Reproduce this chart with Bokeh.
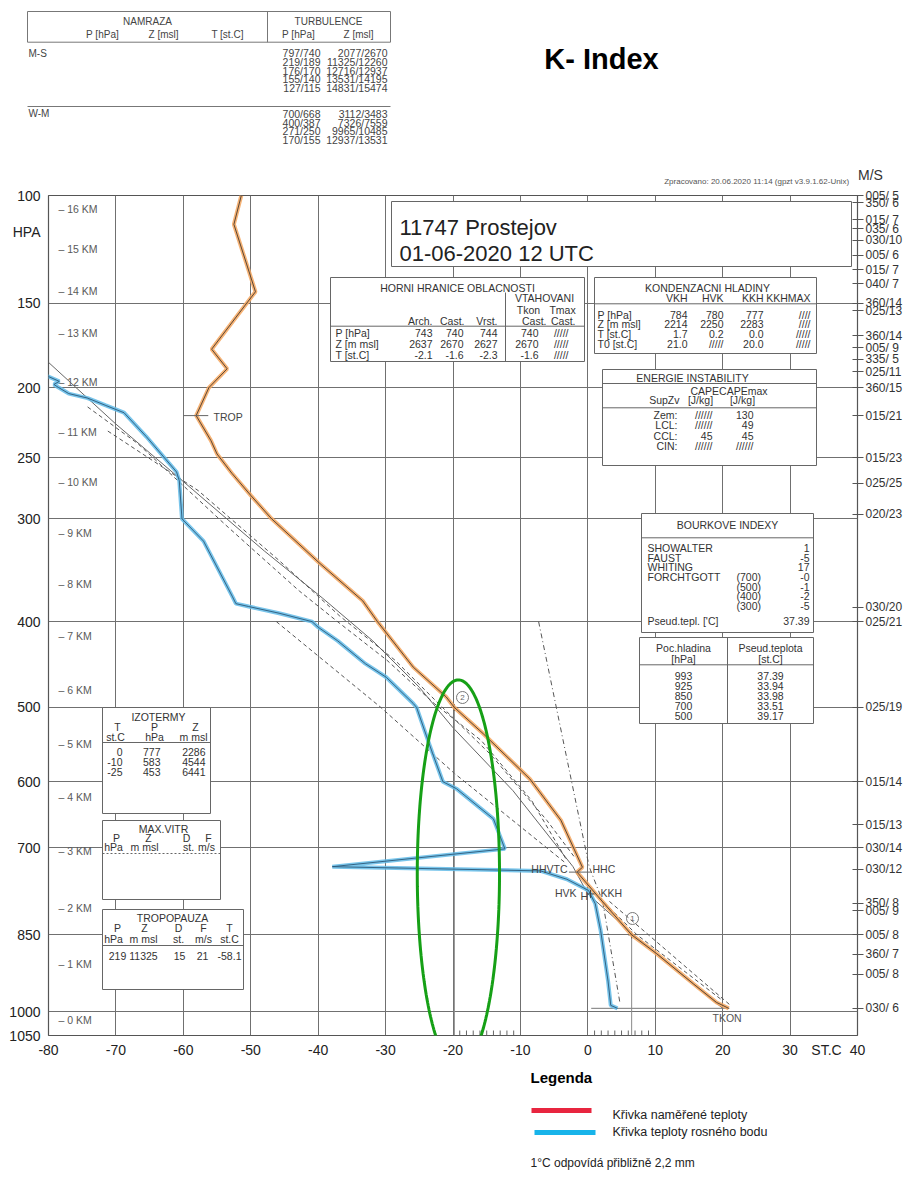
import numpy as np
from bokeh.plotting import figure
from bokeh.layouts import column, row
from bokeh.models import Range1d, FixedTicker, LinearAxis, PolyAnnotation
from bokeh.core.properties import value
from bokeh.embed import file_html
from bokeh.resources import INLINE

# ---------------------------------------------------------------------------
# Sounding 11747 Prostejov, 01-06-2020 12 UTC (Stuve diagram, y ~ p^0.286)
# ---------------------------------------------------------------------------
KAPPA = 0.286

# measured temperature [hPa, deg C]
TEMP_P = [100, 112, 144, 150, 176, 188, 200, 219, 237, 247, 262, 280, 300, 327,
          340, 378, 400, 451, 487, 500, 534, 596, 657, 732, 740, 784, 850, 885,
          944, 981, 993]
TEMP_T = [-51.4, -52.5, -49.3, -50.6, -55.8, -53.5, -56.2, -58.1, -55.9, -55.0,
          -52.8, -50.0, -46.9, -42.1, -39.9, -33.4, -31.2, -25.9, -21.0, -19.8,
          -15.5, -8.6, -4.0, -0.8, -1.6, 1.7, 6.5, 10.2, 15.7, 19.1, 20.9]

# dew point [hPa, deg C]
DEW_P = [191, 196, 198, 200, 204, 207, 212, 217, 234, 261, 268, 300, 320, 374,
         381, 384, 391, 400, 406, 421, 447, 463, 495, 500, 543, 561, 600, 610,
         655, 702, 731, 738, 752, 771, 794, 842, 938, 987, 993]
DEW_T = [-81.0, -78.4, -79.2, -78.5, -77.0, -74.2, -71.5, -68.8, -65.5, -61.0,
         -60.6, -60.2, -57.0, -52.7, -52.2, -50.3, -45.8, -40.9, -40.0, -37.1,
         -33.0, -29.9, -25.9, -25.4, -23.7, -23.0, -21.5, -19.5, -14.0, -12.3,
         -37.9, -7.0, -3.1, 0.1, 1.1, 1.9, 3.0, 3.4, 4.4]

# parcel path (solid) and auxiliary construction lines (dashed)
PARCEL_P = [184, 225, 264, 329, 375, 421, 475, 526, 613, 731, 777, 850, 993]
PARCEL_T = [-80.0, -70.0, -61.0, -48.0, -39.4, -31.9, -25.0, -20.0, -11.1, -2.2,
            0.0, 6.8, 20.0]
AUX_A_P = [213, 239, 268, 305, 327, 368, 399, 443, 495, 543, 628, 721]
AUX_A_T = [-74.2, -66.8, -60.8, -53.8, -49.8, -42.8, -37.3, -29.8, -22.8, -15.8,
           -8.3, -3.1]
AUX_B_P = [230, 276, 338, 394, 443, 498, 563, 657, 715]
AUX_B_T = [-71.2, -57.8, -45.8, -36.8, -28.6, -21.8, -14.3, -6.1, -2.0]
AUX_C_P = [400, 500, 588, 725]
AUX_C_T = [-46.2, -30.7, -19.8, -3.3]
MIXR_P = [400, 731, 790, 985]
MIXR_T = [-7.3, 0.2, 2.2, 4.8]
DRY1_P = [784, 850, 974]
DRY1_T = [1.7, 7.3, 19.7]
DRY2_P = [790, 850, 985]
DRY2_T = [3.2, 9.0, 21.0]

# axis labels
X_TICKS = [-80, -70, -60, -50, -40, -30, -20, -10, 0, 10, 20, 30, 40]
X_GRID = [-70, -60, -50, -40, -30, -20, -10, 0, 10, 20, 30]
P_LABELS = [100, 150, 200, 250, 300, 400, 500, 600, 700, 850, 1000, 1050]
P_GRID = [150, 200, 250, 300, 400, 500, 600, 700, 850, 1000]
KM_P = [105.6, 123, 143.7, 166.7, 196.6, 231, 269, 313, 361, 416, 478, 547,
        622, 706, 801, 904, 1018]
KM_LABEL = [16, 15, 14, 13, 12, 11, 10, 9, 8, 7, 6, 5, 4, 3, 2, 1, 0]

# winds direction/speed [m/s] at reported levels
WIND_P = [100, 103, 110, 114, 119, 126, 133, 140, 150, 154, 168, 175, 182, 190,
          200, 219, 250, 270, 296, 385, 400, 500, 600, 664, 700, 735, 793, 806,
          850, 886, 925, 993]
WIND_LABEL = ["005/ 5", "350/ 6", "015/ 7", "035/ 6", "030/10", "005/ 6",
              "015/ 7", "040/ 7", "360/14", "025/13", "360/14", "005/ 9",
              "335/ 5", "025/11", "360/15", "015/21", "015/23", "025/25",
              "020/23", "030/20", "025/21", "025/19", "015/14", "015/13",
              "030/14", "030/12", "350/ 8", "005/ 9", "005/ 8", "360/ 7",
              "005/ 8", "030/ 6"]

# K-index construction: T500 and T850 verticals
KIDX_T500, KIDX_T850 = -19.8, 6.5
SURFACE_P = 993

# highlighted area
ELL_T, ELL_P, ELL_HALF_T, ELL_HALF_PX = -19.2, 743, 6.1, 194

# ---------------------------------------------------------------------------
FONT = "Liberation Sans"
INK = "#333333"
BOX_LINE = "#666666"

PAGE_W = 906
TOP_H, MAIN_H, BOT_H = 187, 875, 118
FRAME_L, FRAME_R = 48, 857
FRAME_T, FRAME_B = 195, 1035
T_MIN, T_MAX = -80, 40
P_TOP, P_BOT = 100, 1050


def u(pv):
    return round(float(pv) ** KAPPA, 9)


def us(ps):
    return [u(v) for v in ps]


def tx(xp):
    return T_MIN + (xp - FRAME_L) * (T_MAX - T_MIN) / (FRAME_R - FRAME_L)


def uy(yp):
    return u(P_TOP) + (yp - FRAME_T) * (u(P_BOT) - u(P_TOP)) / (FRAME_B - FRAME_T)


def put(fig, x, y, s, size=10, align="left", color=INK, style="normal"):
    fig.text(x=[x], y=[y], text=[s], text_align=align, text_baseline="middle",
             text_font=value(FONT), text_font_size=value(f"{size}px"),
             text_color=color, text_font_style=value(style))


# ---------------------------------------------------------------------------
# main diagram
# ---------------------------------------------------------------------------
p = figure(width=PAGE_W, height=MAIN_H,
           x_range=Range1d(T_MIN, T_MAX), y_range=Range1d(u(P_BOT), u(P_TOP)),
           output_backend="svg", toolbar_location=None,
           min_border_left=FRAME_L, min_border_right=PAGE_W - FRAME_R,
           min_border_top=FRAME_T - TOP_H,
           min_border_bottom=TOP_H + MAIN_H - FRAME_B)
p.background_fill_color = "white"
p.border_fill_color = "white"
p.outline_line_color = "#555555"
p.outline_line_width = 1.2

xa = p.xaxis[0]
xa.ticker = FixedTicker(ticks=X_TICKS + [35.4])
over = {float(t): str(t) for t in X_TICKS}
over[35.4] = "ST.C"
xa.major_label_overrides = over
ya = p.yaxis[0]
hpa_tick = u(115.5)
ya.ticker = FixedTicker(ticks=us(P_LABELS) + [hpa_tick])
yover = {u(v): str(v) for v in P_LABELS}
yover[hpa_tick] = "HPA"
ya.major_label_overrides = yover
for ax in (xa, ya):
    ax.major_tick_in = 0
    ax.major_tick_out = 0
    ax.minor_tick_line_color = None
    ax.axis_line_color = None
    ax.major_label_text_font = FONT
    ax.major_label_text_font_size = "14px"
    ax.major_label_text_color = "#222222"
xa.major_label_standoff = 6
ya.major_label_standoff = 8

ra = LinearAxis(ticker=FixedTicker(ticks=us(WIND_P)),
                major_label_overrides={u(pv): s for pv, s in zip(WIND_P, WIND_LABEL)})
ra.major_tick_in = 5
ra.major_tick_out = 6
ra.major_tick_line_color = "#555555"
ra.minor_tick_line_color = None
ra.axis_line_color = None
ra.major_label_text_font = FONT
ra.major_label_text_font_size = "12px"
ra.major_label_text_color = "#333333"
ra.major_label_standoff = 2
p.add_layout(ra, "right")

p.xgrid[0].ticker = FixedTicker(ticks=X_GRID)
p.ygrid[0].ticker = FixedTicker(ticks=us(P_GRID))
for g in (p.xgrid[0], p.ygrid[0]):
    g.grid_line_color = "#707070"
    g.grid_line_width = 1
    g.grid_line_alpha = 1.0

# height scale at the left edge
p.text(x=[tx(58)] * len(KM_P), y=us(KM_P), text=[f"\u2013 {k} KM" for k in KM_LABEL],
       text_align="left", text_baseline="middle", text_font=value(FONT),
       text_font_size=value("10.5px"), text_color="#5a5a5a")


# ---- information boxes inside the diagram ----
def box(l, t, r, b):
    p.quad(left=[tx(l)], right=[tx(r)], top=[uy(t)], bottom=[uy(b)],
           fill_color="white", line_color=BOX_LINE, line_width=1)


def hline(x0, x1, y, dash="solid"):
    p.segment(x0=[tx(x0)], y0=[uy(y)], x1=[tx(x1)], y1=[uy(y)],
              line_color=BOX_LINE, line_width=1, line_dash=dash)


def vline(x, y0, y1):
    p.segment(x0=[tx(x)], y0=[uy(y0)], x1=[tx(x)], y1=[uy(y1)],
              line_color=BOX_LINE, line_width=1)


def mt(x, y, s, size=10, align="left", color=INK, style="normal"):
    put(p, tx(x), uy(y), s, size, align, color, style)


# station / time
box(391, 201, 851, 266)
mt(399, 227, "11747  Prostejov", 22, color="#222222")
mt(399, 253, "01-06-2020  12 UTC", 22, color="#222222")

# cloud tops
box(330, 277, 584, 361)
hline(330, 584, 325.7)
vline(505, 292, 361)
mt(457, 287, "HORNI HRANICE OBLACNOSTI", 10.5, "center")
mt(544, 297, "VTAHOVANI", 10.5, "center")
mt(528, 309, "Tkon", 10.5, "center")
mt(562, 309, "Tmax", 10.5, "center")
for s, x in zip(["Arch.", "Cast.", "Vrst.", "Cast.", "Cast."], [432, 464, 497, 546, 575]):
    mt(x, 320, s, 10.5, "right")
cloud_rows = [("P [hPa]", ["743", "740", "744", "740", "/////"]),
              ("Z [m msl]", ["2637", "2670", "2627", "2670", "/////"]),
              ("T [st.C]", ["-2.1", "-1.6", "-2.3", "-1.6", "/////"])]
for (lab, vals), y in zip(cloud_rows, [332, 343, 354]):
    mt(335, y, lab, 10.5)
    for s, x in zip(vals, [432, 463, 497, 538, 568]):
        mt(x, y, s, 10.5, "right")

# condensation levels
box(594, 277, 816, 353)
hline(594, 816, 303.3)
mt(707, 287, "KONDENZACNI HLADINY", 10.5, "center")
for s, x in zip(["VKH", "HVK", "KKH", "KKHMAX"], [687, 723, 763, 810]):
    mt(x, 297, s, 10.5, "right")
cond_rows = [("P [hPa]", ["784", "780", "777", "////"]),
             ("Z [m msl]", ["2214", "2250", "2283", "////"]),
             ("T [st.C]", ["1.7", "0.2", "0.0", "/////"]),
             ("T0 [st.C]", ["21.0", "/////", "20.0", "/////"])]
for (lab, vals), y in zip(cond_rows, [314, 323.5, 333, 343]):
    mt(597, y, lab, 10.5)
    for s, x in zip(vals, [687, 723, 763, 810]):
        mt(x, y, s, 10.5, "right")

# instability energy
box(602, 369, 816, 465)
hline(602, 816, 383)
hline(602, 816, 407.3)
mt(692, 377, "ENERGIE INSTABILITY", 10.5, "center")
mt(690, 390, "CAPECAPEmax", 10.5)
mt(679, 399.5, "SupZv", 10.5, "right")
mt(700, 399.5, "[J/kg]", 10.5, "center")
mt(742, 399.5, "[J/kg]", 10.5, "center")
cape_rows = [("Zem:", "//////", "130"), ("LCL:", "//////", "49"),
             ("CCL:", "45", "45"), ("CIN:", "//////", "//////")]
for (lab, a, b), y in zip(cape_rows, [414, 424.5, 435, 445]):
    mt(677, y, lab, 10.5, "right")
    mt(712, y, a, 10.5, "right")
    mt(753, y, b, 10.5, "right")

# storm indices
box(641, 513, 813, 632)
hline(641, 813, 537.3)
mt(727, 524, "BOURKOVE INDEXY", 10.5, "center")
storm_rows = [("SHOWALTER", "", "1"), ("FAUST", "", "-5"), ("WHITING", "", "17"),
              ("FORCHTGOTT", "(700)", "-0"), ("", "(500)", "-1"), ("", "(400)", "-2"),
              ("", "(300)", "-5"), ("Pseud.tepl. ['C]", "", "37.39")]
for (lab, mid, val), y in zip(storm_rows, [547.3, 557, 566.7, 576.7, 586, 595.7, 605.3, 620.7]):
    if lab:
        mt(647, y, lab, 10.5)
    if mid:
        mt(736, y, mid, 10.5)
    mt(809, y, val, 10.5, "right")

# pseudo-potential temperatures
box(639, 637, 813, 723)
vline(727, 637, 723)
hline(639, 813, 664.3)
mt(683, 647.3, "Poc.hladina", 10.5, "center")
mt(683, 658.3, "[hPa]", 10.5, "center")
mt(770, 647.3, "Pseud.teplota", 10.5, "center")
mt(770, 658.3, "[st.C]", 10.5, "center")
for a, b, y in zip(["993", "925", "850", "700", "500"],
                   ["37.39", "33.94", "33.98", "33.51", "39.17"],
                   [675, 685, 695, 705, 715]):
    mt(683, y, a, 10.5, "center")
    mt(770, y, b, 10.5, "center")

# isotherms
box(102, 707, 210, 813)
hline(102, 210, 742)
mt(158, 716, "IZOTERMY", 10.5, "center")
for s, x in zip(["T", "P", "Z"], [117, 154, 195]):
    mt(x, 726, s, 10.5, "center")
for s, x in zip(["st.C", "hPa", "m msl"], [115, 154, 193]):
    mt(x, 736, s, 10.5, "center")
for rw, y in zip([("0", "777", "2286"), ("-10", "583", "4544"), ("-25", "453", "6441")],
                 [751, 761, 771]):
    for s, x in zip(rw, [122, 160, 205]):
        mt(x, y, s, 10.5, "right")

# maximum wind
box(102, 820, 220, 899)
hline(102, 220, 853, "2 2")
mt(163, 828, "MAX.VITR", 10.5, "center")
for s, x in zip(["P", "Z", "D", "F"], [116, 148, 186, 208]):
    mt(x, 837, s, 10.5, "center")
for s, x in zip(["hPa", "m msl", "st.", "m/s"], [113, 144, 188, 206]):
    mt(x, 846, s, 10.5, "center")

# tropopause
box(102, 909, 243, 989)
hline(102, 243, 945)
mt(172, 917, "TROPOPAUZA", 10.5, "center")
for s, x in zip(["P", "Z", "D", "F", "T"], [117, 144, 178, 203, 229]):
    mt(x, 927, s, 10.5, "center")
for s, x in zip(["hPa", "m msl", "st.", "m/s", "st.C"], [113, 143, 178, 203, 229]):
    mt(x, 938, s, 10.5, "center")
for s, x in zip(["219", "11325", "15", "21", "-58.1"], [117, 143, 179, 202, 229]):
    mt(x, 955, s, 10.5, "center")

# ---- construction lines ----
DASH = "4 3"
p.line(PARCEL_T, us(PARCEL_P), line_color="#666666", line_width=1)
for tt, pp, dash in [(AUX_A_T, AUX_A_P, DASH), (AUX_B_T, AUX_B_P, DASH),
                     (AUX_C_T, AUX_C_P, DASH), (MIXR_T, MIXR_P, "5 3 1 3"),
                     (DRY1_T, DRY1_P, DASH), (DRY2_T, DRY2_P, DASH)]:
    p.line(tt, us(pp), line_color="#555555", line_width=1, line_dash=dash)

# surface line and K-index verticals
p.line([0.5, 21.0], us([SURFACE_P, SURFACE_P]), line_color="#777777", line_width=1)
p.line([KIDX_T500, KIDX_T500], us([500, P_BOT]), line_color="#8a8a8a", line_width=1)
p.line([KIDX_T850, KIDX_T850], us([850, P_BOT]), line_color="#8a8a8a", line_width=1)
p.scatter([KIDX_T500, KIDX_T850], us([500, 850]), marker="cross", size=7,
          line_color="#444444", line_width=1)

# small degree scale marks at the bottom
for t in list(range(-19, -10)) + list(range(1, 10)):
    p.segment(x0=[t], y0=[u(P_BOT)], x1=[t], y1=[uy(FRAME_B - 5)],
              line_color="#666666", line_width=1)

# ---- temperature and dew point curves ----
p.line(TEMP_T, us(TEMP_P), line_color="#f4a65e", line_width=4, line_alpha=0.85)
p.line(TEMP_T, us(TEMP_P), line_color="#4a3a2c", line_width=0.9)
p.line(DEW_T, us(DEW_P), line_color="#62bbe8", line_width=4, line_alpha=0.85)
p.line(DEW_T, us(DEW_P), line_color="#2b5878", line_width=0.9)

# level markers
p.segment(x0=[-60.0], y0=[u(219)], x1=[-56.3], y1=[u(219)], line_color="#666666")
mt(213, 416, "TROP", 10.5, color="#444444")
p.segment(x0=[-2.8], y0=[u(740)], x1=[0.6], y1=[u(740)], line_color="#666666")
mt(567, 868, "HHVTC", 10.5, "right", "#444444")
mt(592, 868, "HHC", 10.5, color="#444444")
mt(576, 892, "HVK", 10.5, "right", "#444444")
mt(580, 895, "H", 10.5, color="#444444")
mt(600, 892, "KKH", 10.5, color="#444444")
p.scatter([0.4], [u(777)], marker="cross", size=8, line_color="#444444")
mt(712, 1017, "TKON", 10.5, color="#555555")

# circled reference marks
p.scatter([tx(462), tx(632)], [uy(697), uy(918)], marker="circle", size=12,
          fill_color=None, line_color="#777777", line_width=1)
mt(462, 697, "2", 8, "center", "#666666")
mt(632, 918, "1", 8, "center", "#666666")

# hand-drawn emphasis ellipse
th = np.linspace(0, 2 * np.pi, 240)
half_u = ELL_HALF_PX * (u(P_BOT) - u(P_TOP)) / (FRAME_B - FRAME_T)
p.add_layout(PolyAnnotation(xs=list(ELL_T + ELL_HALF_T * np.cos(th)),
                            ys=list(u(ELL_P) + half_u * np.sin(th)),
                            xs_units="data", ys_units="data",
                            fill_color=None, fill_alpha=0,
                            line_color="#16a016", line_width=3, line_alpha=1.0))

# ---------------------------------------------------------------------------
# header: icing / turbulence table and title
# ---------------------------------------------------------------------------
top = figure(width=PAGE_W, height=TOP_H, x_range=Range1d(0, PAGE_W),
             y_range=Range1d(TOP_H, 0), output_backend="svg", toolbar_location=None,
             x_axis_type=None, y_axis_type=None, min_border=0)
top.outline_line_color = None
top.background_fill_color = "white"
top.border_fill_color = "white"
top.segment(x0=[27, 27, 390, 267, 27, 27], y0=[11, 11, 11, 11, 41.7, 106],
            x1=[390, 27, 390, 267, 390, 390], y1=[11, 41.7, 41.7, 41.7, 41.7, 106],
            line_color="#777777", line_width=1)
put(top, 147, 20.7, "NAMRAZA", 10, "center", "#444444")
put(top, 328, 20.7, "TURBULENCE", 10, "center", "#444444")
for s, x in zip(["P [hPa]", "Z [msl]", "T [st.C]", "P [hPa]", "Z [msl]"],
                [102, 163, 227, 298, 358]):
    put(top, x, 34, s, 10, "center", "#444444")
put(top, 28, 52.7, "M-S", 10, color="#444444")
put(top, 28, 113.3, "W-M", 10, color="#444444")
ms_rows = [("797/740", "2077/2670"), ("219/189", "11325/12260"),
           ("176/170", "12716/12937"), ("155/140", "13531/14195"),
           ("127/115", "14831/15474")]
wm_rows = [("700/668", "3112/3483"), ("400/387", "7326/7559"),
           ("271/250", "9965/10485"), ("170/155", "12937/13531")]
for (a, b), y in zip(ms_rows, [52.7, 61.4, 70.1, 78.8, 87.5]):
    put(top, 320, y, a, 10.5, "right", "#444444")
    put(top, 387, y, b, 10.5, "right", "#444444")
for (a, b), y in zip(wm_rows, [113.3, 122, 130.7, 139.4]):
    put(top, 320, y, a, 10.5, "right", "#444444")
    put(top, 387, y, b, 10.5, "right", "#444444")
put(top, 601, 58, "K- Index", 29, "center", "#000000", "bold")
put(top, 870, 174, "M/S", 14, "center", "#333333")
put(top, 853, 181, "Zpracovano: 20.06.2020  11:14  (gpzt v3.9.1.62-Unix)", 8,
    "right", "#555555")

# ---------------------------------------------------------------------------
# legend
# ---------------------------------------------------------------------------
bot = figure(width=PAGE_W, height=BOT_H, x_range=Range1d(0, PAGE_W),
             y_range=Range1d(BOT_H, 0), output_backend="svg", toolbar_location=None,
             x_axis_type=None, y_axis_type=None, min_border=0)
bot.outline_line_color = None
bot.background_fill_color = "white"
bot.border_fill_color = "white"
put(bot, 530, 15, "Legenda", 15, color="#000000", style="bold")
bot.segment(x0=[531], y0=[48], x1=[591], y1=[48], line_color="#e8253f",
            line_width=5, line_cap="butt")
bot.segment(x0=[534], y0=[70], x1=[595], y1=[70], line_color="#18b4ea",
            line_width=5, line_cap="butt")
put(bot, 612, 52, "K\u0159ivka nam\u011b\u0159en\u00e9 teploty", 12.5, color="#222222")
put(bot, 612, 69, "K\u0159ivka teploty rosn\u00e9ho bodu", 12.5, color="#222222")
put(bot, 530, 100, "1\u00b0C odpov\u00edd\u00e1 p\u0159ibli\u017en\u011b 2,2 mm", 12, color="#222222")

# wrap header and legend so their canvases keep their own borders
layout = column(row(top), p, row(bot), spacing=0)
open("out.html", "w").write(file_html(layout, INLINE))
